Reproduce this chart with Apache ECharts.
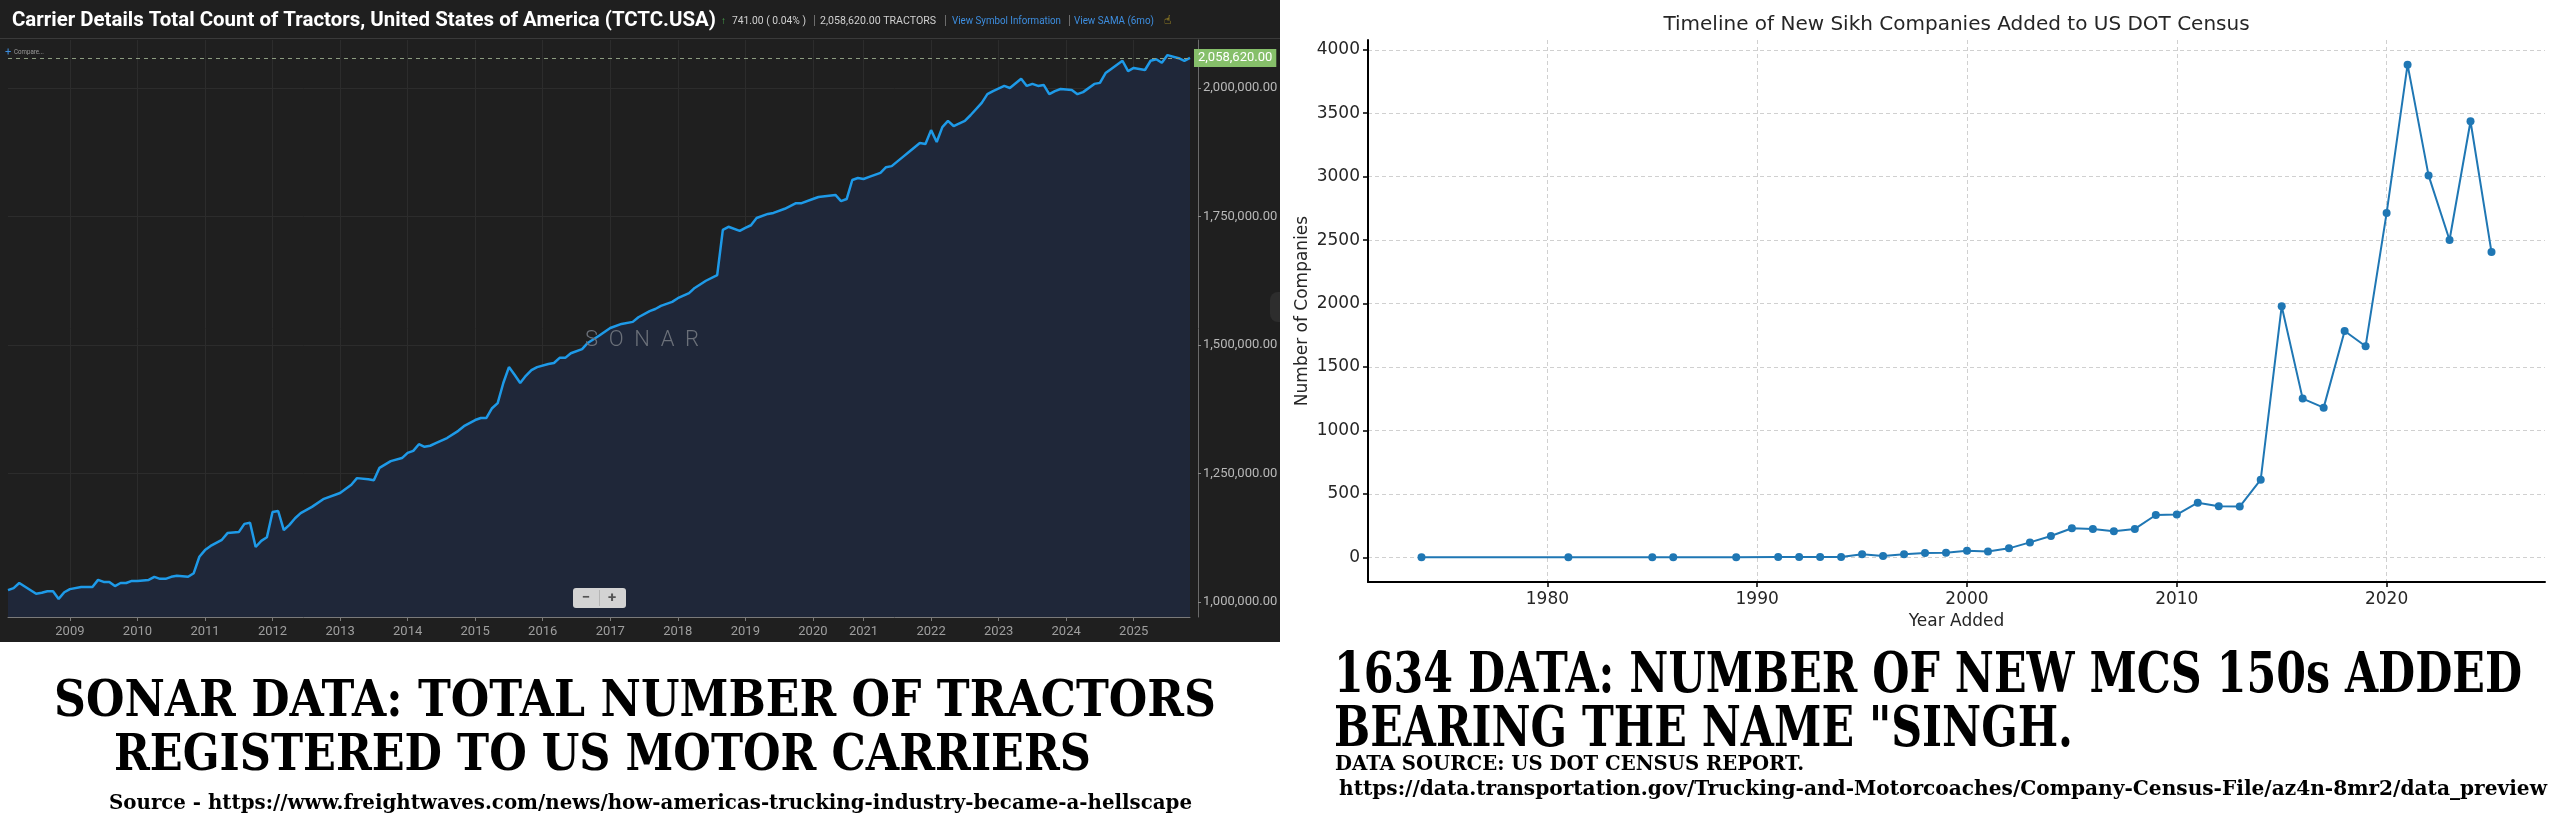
<!DOCTYPE html>
<html>
<head>
<meta charset="utf-8">
<title>Tractors registered vs new Singh MCS-150s</title>
<script src="https://cdn.jsdelivr.net/npm/echarts@6/dist/echarts.min.js"></script>
<style>
    html, body { margin: 0; padding: 0; background: #fff; }
    #chart { width: 2560px; height: 837px; }
</style>
</head>
<body>
<div id="chart"></div>
<script>
// ---- SONAR: Carrier Details Total Count of Tractors (TCTC.USA)
var tractorMonths = [
    '2008-02','2008-03','2008-04','2008-07','2008-08','2008-09','2008-10','2008-11','2008-12',
    '2009-01','2009-03','2009-05','2009-06','2009-07','2009-08','2009-09','2009-10','2009-11','2009-12',
    '2010-01','2010-03','2010-04','2010-05','2010-06','2010-07','2010-08','2010-10','2010-11','2010-12',
    '2011-01','2011-02','2011-04','2011-05','2011-07','2011-08','2011-09','2011-10','2011-11','2011-12',
    '2012-01','2012-02','2012-03','2012-04','2012-05','2012-06','2012-08','2012-10',
    '2013-01','2013-03','2013-04','2013-06','2013-07','2013-08','2013-10','2013-12',
    '2014-01','2014-02','2014-03','2014-04','2014-05','2014-06','2014-08','2014-10','2014-11',
    '2015-01','2015-02','2015-03','2015-04','2015-05','2015-06','2015-07','2015-08','2015-09','2015-10','2015-11','2015-12',
    '2016-02','2016-03','2016-04','2016-05','2016-06','2016-08','2016-09','2016-11',
    '2017-01','2017-03','2017-05','2017-06','2017-08','2017-09','2017-10','2017-12',
    '2018-01','2018-03','2018-04','2018-06','2018-08','2018-09','2018-10','2018-12',
    '2019-01','2019-02','2019-03','2019-05','2019-06','2019-08','2019-10','2019-11',
    '2020-01','2020-02','2020-05','2020-06','2020-07','2020-08','2020-09',
    '2021-01','2021-02','2021-04','2021-05','2021-06','2021-08','2021-09','2021-11','2021-12',
    '2022-01','2022-02','2022-03','2022-04','2022-05','2022-07','2022-08','2022-10','2022-11','2022-12',
    '2023-02','2023-03','2023-05','2023-06','2023-07','2023-08','2023-09','2023-10','2023-11','2023-12',
    '2024-02','2024-03','2024-04','2024-06','2024-07','2024-08','2024-09','2024-11','2024-12',
    '2025-01','2025-03','2025-04','2025-05','2025-06','2025-07','2025-09','2025-10','2025-11'
];
var tractorCounts = [
    1023000,1027000,1037000,1016000,1018000,1021000,1021000,1006000,1019000,
    1025000,1029000,1029000,1043000,1039000,1039000,1031000,1037000,1037000,1041000,
    1041000,1043000,1049000,1045000,1045000,1049000,1051000,1049000,1056000,1088000,
    1101000,1109000,1121000,1134000,1136000,1152000,1154000,1107000,1119000,1126000,
    1175000,1177000,1140000,1150000,1163000,1173000,1185000,1200000,
    1212000,1228000,1241000,1239000,1237000,1261000,1274000,1280000,
    1290000,1294000,1307000,1302000,1304000,1309000,1319000,1333000,1342000,
    1354000,1358000,1358000,1377000,1387000,1426000,1457000,1442000,1426000,1440000,1451000,1457000,
    1463000,1465000,1475000,1475000,1484000,1492000,1504000,1518000,
    1533000,1541000,1545000,1554000,1566000,1570000,1576000,1584000,
    1591000,1601000,1611000,1625000,1636000,1724000,1730000,1722000,
    1728000,1733000,1747000,1755000,1757000,1765000,1776000,1776000,
    1784000,1788000,1792000,1780000,1784000,1821000,1825000,
    1823000,1827000,1835000,1846000,1848000,1866000,1875000,1893000,1891000,
    1918000,1895000,1924000,1936000,1926000,1936000,1947000,1971000,1988000,1994000,
    2004000,2000000,2018000,2004000,2008000,2004000,2006000,1988000,1994000,1998000,
    1996000,1988000,1992000,2008000,2010000,2029000,2037000,2053000,2033000,
    2039000,2035000,2053000,2056000,2049000,2064000,2058000,2053000,2058620
];
var tractorTicks = [1000000, 1250000, 1500000, 1750000, 2000000];
var tractorLast = 2058620;

// ---- US DOT census: new companies named "Singh" per year added
var singhYears = [1974,1981,1985,1986,1989,1991,1992,1993,1994,1995,1996,1997,1998,1999,
    2000,2001,2002,2003,2004,2005,2006,2007,2008,2009,2010,2011,2012,2013,2014,2015,2016,
    2017,2018,2019,2020,2021,2022,2023,2024,2025];
var singhCounts = [1,1,1,1,1,2,2,2,3,24,10,24,34,37,
    53,47,71,118,168,229,224,205,224,334,337,431,402,400,612,1979,1251,
    1180,1784,1664,2713,3883,3010,2501,3437,2406];
var singhYTicks = [0,500,1000,1500,2000,2500,3000,3500,4000];
var singhXTicks = [1980,1990,2000,2010,2020];

// monthly category axis of the SONAR feed (2020 only carries Jan-Sep)
var monthAxis = [];
for (var y = 2008; y <= 2025; y++) {
    for (var m = 1; m <= 12; m++) {
        if (y === 2008 && m < 2) continue;
        if (y === 2020 && m > 9) continue;
        if (y === 2025 && m > 11) continue;
        monthAxis.push(y + '-' + (m < 10 ? '0' + m : m));
    }
}
var isJan = function (idx, val) { return val.slice(5) === '01'; };

// squeeze a text so it spans a given width (the picture's fonts are condensed)
var measureCtx = document.createElement('canvas').getContext('2d');
function fitText(text, x, y, w, size, family, weight, color) {
    var font = weight + ' ' + size + 'px ' + family;
    measureCtx.font = font;
    var sx = w / measureCtx.measureText(text).width;
    return {
        type: 'text', x: x, y: y, scaleX: sx, scaleY: 1, z: 50,
        style: {
            text: text, font: font, fill: color,
            textAlign: 'left', textVerticalAlign: 'middle', align: 'left', verticalAlign: 'middle'
        }
    };
}
function plainText(text, x, y, size, family, weight, color, align) {
    return {
        type: 'text', x: x, y: y, z: 50,
        style: {
            text: text, font: weight + ' ' + size + 'px ' + family, fill: color,
            textAlign: align || 'left', textVerticalAlign: 'middle',
            align: align || 'left', verticalAlign: 'middle'
        }
    };
}

var money = function (v) {
    return v.toLocaleString('en-US', {minimumFractionDigits: 2, maximumFractionDigits: 2});
};
var plain = function (v) { return String(v); };

var serif = '"DejaVu Serif"';
var sans = 'Roboto';
var mpl = '"DejaVu Sans"';

var graphics = [
    // dark SONAR panel
    {type: 'rect', z: -20, shape: {x: 0, y: 0, width: 1280, height: 642}, style: {fill: '#1f1f1f'}},
    {type: 'line', z: -5, shape: {x1: 0, y1: 38.5, x2: 1280, y2: 38.5}, style: {stroke: '#3a3a3a', lineWidth: 1}},
    // header
    fitText('Carrier Details Total Count of Tractors, United States of America (TCTC.USA)', 12, 21, 704, 21, sans, 'bold', '#ffffff'),
    plainText('\u2191', 721, 21, 10, sans, 'normal', '#4caf50'),
    fitText('741.00 ( 0.04% )', 732, 21, 74, 10, sans, 'normal', '#d0d0d0'),
    plainText('|', 813, 21, 12, sans, 'normal', '#777'),
    fitText('2,058,620.00 TRACTORS', 820, 21, 116, 10, sans, 'normal', '#d0d0d0'),
    plainText('|', 944, 21, 12, sans, 'normal', '#777'),
    fitText('View Symbol Information', 952, 21, 109, 10, sans, 'normal', '#3d8ee0'),
    plainText('|', 1068, 21, 12, sans, 'normal', '#777'),
    fitText('View SAMA (6mo)', 1074, 21, 80, 10, sans, 'normal', '#3d8ee0'),
    plainText('\u261D', 1164, 21, 12, '"DejaVu Sans"', 'normal', '#e6c228'),
    plainText('+', 5, 52, 11, sans, 'normal', '#3d8ee0'),
    fitText('Compare...', 14, 52, 30, 8, sans, 'normal', '#9a9a9a'),
    // watermark
    plainText('S  O  N  A  R', 642, 340, 22, sans, '300', '#6b7079', 'center'),
    // zoom buttons
    {type: 'rect', z: 40, shape: {x: 573, y: 588, width: 53, height: 20, r: 3}, style: {fill: '#d3d3d3'}},
    {type: 'line', z: 41, shape: {x1: 599.5, y1: 590, x2: 599.5, y2: 606}, style: {stroke: '#b5b5b5', lineWidth: 1}},
    plainText('\u2212', 586, 598, 15, sans, 'bold', '#555', 'center'),
    plainText('+', 612, 598, 15, sans, 'bold', '#555', 'center'),
    // scroll handle on the right edge
    {type: 'rect', z: -4, shape: {x: 1270, y: 292, width: 10, height: 30, r: [8, 0, 0, 8]}, style: {fill: '#2d2d2d'}},

    // right panel title
    plainText('Timeline of New Sikh Companies Added to US DOT Census', 1956.5, 25, 20, mpl, 'normal', '#262626', 'center'),

    // captions under the panels
    fitText('SONAR DATA: TOTAL NUMBER OF TRACTORS', 54, 703, 1162, 51, serif, 'bold', '#000'),
    fitText('REGISTERED TO US MOTOR CARRIERS', 114, 757, 977, 51, serif, 'bold', '#000'),
    fitText('Source - https://www.freightwaves.com/news/how-americas-trucking-industry-became-a-hellscape', 109, 804, 1083, 20, serif, 'bold', '#000'),
    fitText('1634 DATA: NUMBER OF NEW MCS 150s ADDED', 1334, 677, 1188, 56, serif, 'bold', '#000'),
    fitText('BEARING THE NAME "SINGH.', 1334, 731, 739, 56, serif, 'bold', '#000'),
    fitText('DATA SOURCE: US DOT CENSUS REPORT.', 1335, 765, 469, 21, serif, 'bold', '#000'),
    fitText('https://data.transportation.gov/Trucking-and-Motorcoaches/Company-Census-File/az4n-8mr2/data_preview', 1339, 790, 1208, 21, serif, 'bold', '#000')
];

var chart = echarts.init(document.getElementById('chart'), null, {renderer: 'canvas'});
chart.setOption({
    animation: false,
    backgroundColor: '#ffffff',
    graphic: {elements: graphics},
    grid: [
        {left: 8, right: 1370, top: 40, bottom: 220},
        {left: 1368, right: 15, top: 40, bottom: 255}
    ],
    xAxis: [
        {
            type: 'category', gridIndex: 0, data: monthAxis, boundaryGap: false,
            axisLine: {onZero: false, lineStyle: {color: '#7a7a7a'}},
            axisTick: {interval: isJan, length: 4, lineStyle: {color: '#7a7a7a'}},
            axisLabel: {interval: isJan, formatter: function (v) { return v.slice(0, 4); },
                color: '#9e9e9e', fontSize: 13, fontFamily: sans, margin: 8},
            splitLine: {show: true, interval: isJan, lineStyle: {color: '#2c2c2c'}}
        },
        {
            type: 'value', gridIndex: 1, min: 1971.45, max: 2027.55,
            axisLine: {onZero: false, lineStyle: {color: '#000', width: 2}},
            axisTick: {customValues: singhXTicks, length: 5, lineStyle: {color: '#000', width: 1.5}},
            axisLabel: {customValues: singhXTicks, formatter: plain, color: '#262626',
                fontSize: 17, fontFamily: mpl, margin: 9},
            splitLine: {show: true, lineStyle: {type: [4, 3], color: '#d0d0d0'}},
            name: 'Year Added', nameLocation: 'middle', nameGap: 27,
            nameTextStyle: {fontSize: 17, color: '#262626', fontFamily: mpl}
        }
    ],
    yAxis: [
        {
            type: 'value', gridIndex: 0, position: 'right', offset: 8,
            min: 970800, max: 2093400,
            axisLine: {show: true, onZero: false, lineStyle: {color: '#6a6a6a'}},
            axisTick: {show: true, customValues: tractorTicks, length: 3, lineStyle: {color: '#8a8a8a'}},
            axisLabel: {customValues: tractorTicks, formatter: money, color: '#b8b8b8',
                fontSize: 13, fontFamily: sans, margin: 5},
            splitLine: {lineStyle: {color: '#2c2c2c'}}
        },
        {
            type: 'value', gridIndex: 1, min: -194.15, max: 4077.15,
            axisLine: {show: true, onZero: false, lineStyle: {color: '#000', width: 2}},
            axisTick: {show: true, customValues: singhYTicks, length: 5, lineStyle: {color: '#000', width: 1.5}},
            axisLabel: {customValues: singhYTicks, formatter: plain, color: '#262626',
                fontSize: 17, fontFamily: mpl, margin: 8},
            splitLine: {show: true, lineStyle: {type: [4, 3], color: '#d0d0d0'}},
            name: 'Number of Companies', nameLocation: 'middle', nameGap: 57, nameRotate: 90,
            nameTextStyle: {fontSize: 17, color: '#262626', fontFamily: mpl}
        }
    ],
    series: [
        {
            name: 'TCTC.USA', type: 'line', xAxisIndex: 0, yAxisIndex: 0,
            data: tractorMonths.map(function (m, i) { return [m, tractorCounts[i]]; }),
            symbol: 'none',
            lineStyle: {color: '#1e9ae8', width: 2.5},
            itemStyle: {color: '#1e9ae8'},
            areaStyle: {color: '#1f2739', opacity: 1},
            markLine: {
                silent: true, symbol: 'none',
                data: [{yAxis: tractorLast}],
                lineStyle: {type: [4, 4], color: '#8c9c80', width: 1},
                label: {position: 'end', formatter: money(tractorLast), color: '#ffffff',
                    backgroundColor: '#86bf6a', padding: [3, 4, 2, 4], fontSize: 13,
                    fontFamily: sans, distance: 4}
            }
        },
        {
            name: 'Companies', type: 'line', xAxisIndex: 1, yAxisIndex: 1,
            data: singhYears.map(function (yr, i) { return [yr, singhCounts[i]]; }),
            symbol: 'circle', symbolSize: 8,
            lineStyle: {color: '#1f77b4', width: 2},
            itemStyle: {color: '#1f77b4'}
        }
    ]
});
</script>
</body>
</html>
